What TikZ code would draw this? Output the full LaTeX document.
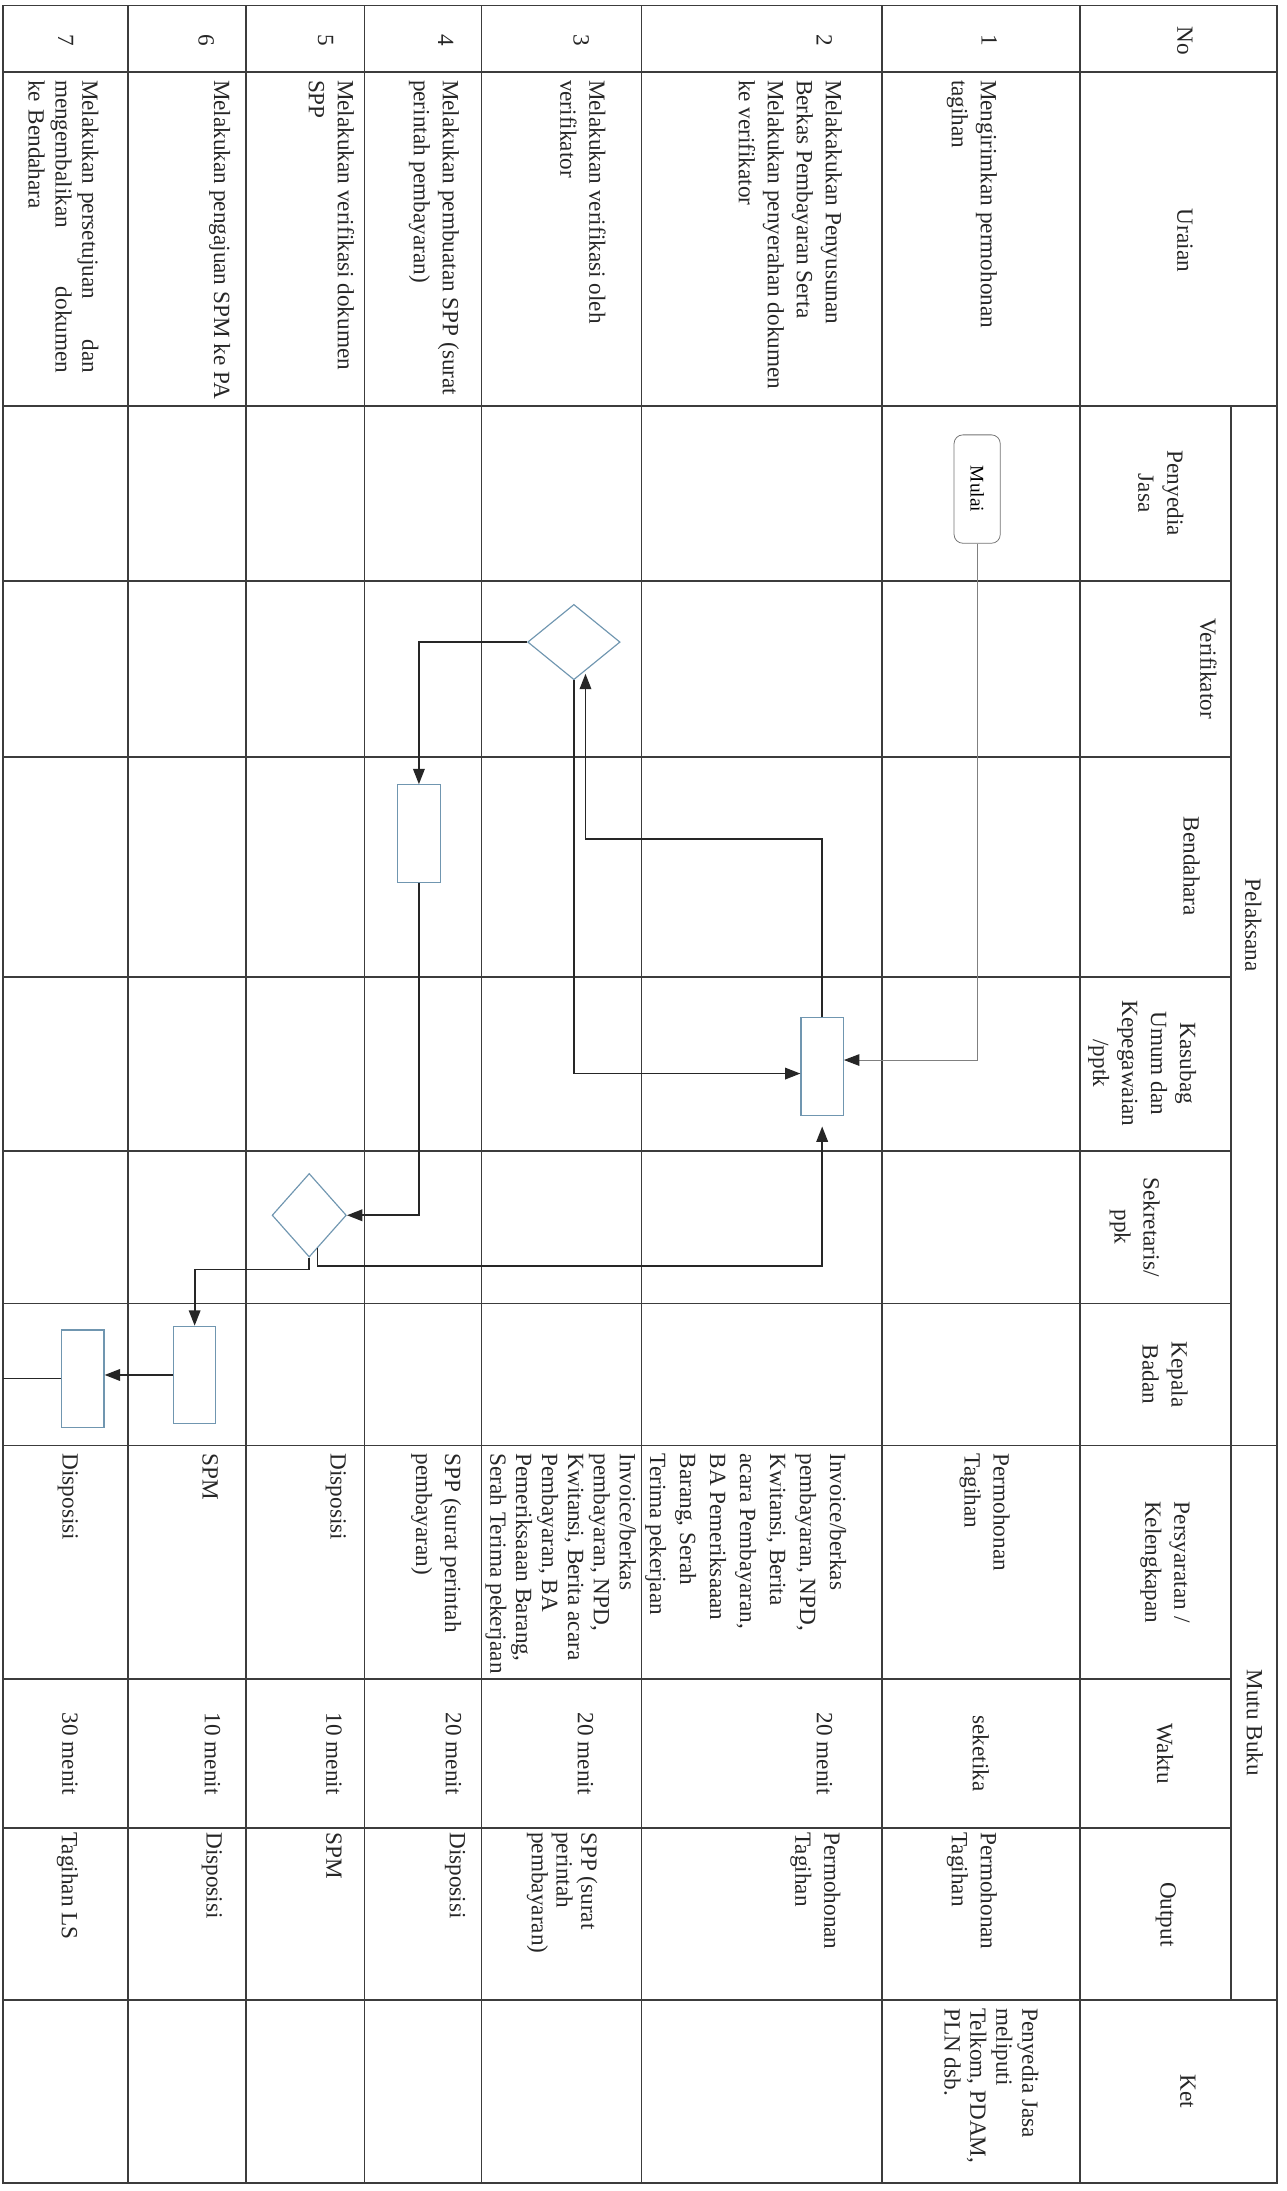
\documentclass[tikz,border=0pt]{standalone}
\usepackage{fontspec}
\setmainfont{Liberation Serif}
\usepackage{xcolor}
\usepackage{tikz}
\usetikzlibrary{shapes.geometric, arrows.meta, calc}

\definecolor{boxblue}{RGB}{112,150,176}
\definecolor{gridgray}{RGB}{60,60,60}
\newcommand{\cellfont}{\fontsize{12}{15}\selectfont}

\begin{document}
\begin{tikzpicture}[
  x=0.254mm, y=-0.254mm,
  grid/.style={draw=gridgray, line width=0.9pt, line cap=rect},
  head/.style={rotate=-90, align=center, inner sep=0pt, font=\cellfont, text=black!85},
  cell/.style={rotate=-90, anchor=north west, align=left, inner sep=0pt, font=\cellfont, text=black!85},
  proc/.style={draw=boxblue, line width=0.6pt, minimum width=7.7mm, minimum height=17.7mm, inner sep=0pt},
  dec/.style={diamond, draw=boxblue, line width=0.6pt, inner sep=0pt},
  start/.style={draw=black!55, rounded corners=1.6mm, rotate=-90, minimum width=19.7mm,
                minimum height=8.4mm, inner sep=0pt, font=\fontsize{10}{12}\selectfont},
  flow/.style={-{Triangle[length=2.8mm,width=2.1mm]}, draw=black!85, line width=0.9pt},
  thinflow/.style={-{Triangle[length=2.8mm,width=2.1mm,color=black!85]}, draw=black!50, line width=0.5pt}
]
  \useasboundingbox (0,0) rectangle (921,1568);

  % table grid
  \foreach \y in {4, 51.3, 290.5, 1034.5, 1431.4, 1562}
    \draw[grid] (2,\y) -- (914,\y);
  \foreach \y in {415.8, 541.5, 699, 823.8, 932.9, 1201.7, 1308.2}
    \draw[grid] (2,\y) -- (881,\y);
  \foreach \x in {2, 91.5, 175.8, 260.8, 344.6, 459.1, 631.4, 773, 914}
    \draw[grid] (\x,4) -- (\x,1562);
  \draw[grid] (881,290.5) -- (881,1431.4);

  % header
  \node[head] (hno) at (848,29) {No};
  \node[head] (hur) at (848,172) {Uraian};
  \node[head] (hpel) at (897,662) {Pelaksana};
  \node[head] (hmutu) at (898,1233) {Mutu Buku};
  \node[head] (hket) at (850,1496.5) {Ket};
  \node[head] (hpj) at (830.7,353) {Penyedia\\Jasa};
  \node[head] (hver) at (864.7,478.6) {Verifikator};
  \node[head] (hben) at (852.8,620) {Bendahara};
  \node[head] (hkas) at (817.5,761) {Kasubag\\Umum dan\\Kepegawaian\\/pptk};
  \node[head] (hsek) at (812,878) {Sekretaris/\\ppk};
  \node[head] (hkep) at (833.7,983.7) {Kepala\\Badan};
  \node[head] (hsyr) at (833.7,1118) {Persyaratan /\\Kelengkapan};
  \node[head] (hwkt) at (833.7,1255) {Waktu};
  \node[head] (hout) at (834.4,1370) {Output};

  % nomor
  \node[head] (n1) at (708,29) {1};
  \node[head] (n2) at (590,29) {2};
  \node[head] (n3) at (416,29) {3};
  \node[head] (n4) at (319,29) {4};
  \node[head] (n5) at (233,29) {5};
  \node[head] (n6) at (147.5,29) {6};
  \node[head] (n7) at (47,29) {7};

  % uraian
  \node[cell] (u1) at (713.8,57) {Mengirimkan permohonan\\tagihan};
  \node[cell] (u2) at (602.8,57) {Melakakukan Penyusunan\\Berkas Pembayaran Serta\\Melakukan penyerahan dokumen\\ke verifikator};
  \node[cell] (u3) at (433.8,57) {Melakukan verifikasi oleh\\verifikator};
  \node[cell] (u4) at (328.8,57) {Melakukan pembuatan SPP (surat\\perintah pembayaran)};
  \node[cell] (u5) at (253.8,57) {Melakukan verifikasi dokumen\\SPP};
  \node[cell] (u6) at (165,57) {Melakukan pengajuan SPM ke PA};
  \node[cell, text width=5.33cm, font=\fontsize{12}{13.9}\selectfont] (u7) at (70.8,57)
    {Melakukan persetujuan\hfill dan\\mengembalikan\hfill dokumen\\ke Bendahara};

  % persyaratan / kelengkapan
  \node[cell] (p1) at (722.8,1040) {Permohonan\\Tagihan};
  \node[cell, font=\fontsize{12}{15.5}\selectfont] (p2) at (605.8,1040)
    {Invoice/berkas\\pembayaran, NPD,\\Kwitansi, Berita\\acara Pembayaran,\\BA Pemeriksaaan\\Barang, Serah\\Terima pekerjaan};
  \node[cell, font=\fontsize{12}{13.4}\selectfont] (p3) at (455.4,1040)
    {Invoice/berkas\\pembayaran, NPD,\\Kwitansi, Berita acara\\Pembayaran, BA\\Pemeriksaaan Barang,\\Serah Terima pekerjaan};
  \node[cell] (p4) at (330.4,1040) {SPP (surat perintah\\pembayaran)};
  \node[cell] (p5) at (247.8,1040) {Disposisi};
  \node[cell] (p6) at (156.3,1040) {SPM};
  \node[cell] (p7) at (56,1040) {Disposisi};

  % waktu
  \node[head] (w1) at (702,1255) {seketika};
  \node[head] (w2) at (590,1255) {20 menit};
  \node[head] (w3) at (419,1255) {20 menit};
  \node[head] (w4) at (324.6,1255) {20 menit};
  \node[head] (w5) at (239,1255) {10 menit};
  \node[head] (w6) at (152,1255) {10 menit};
  \node[head] (w7) at (50,1255) {30 menit};

  % output
  \node[cell] (o1) at (713.8,1311) {Permohonan\\Tagihan};
  \node[cell] (o2) at (601.8,1311) {Permohonan\\Tagihan};
  \node[cell, font=\fontsize{12}{12.8}\selectfont] (o3) at (427.8,1311) {SPP (surat\\perintah\\pembayaran)};
  \node[cell] (o4) at (333.3,1311) {Disposisi};
  \node[cell] (o5) at (244.8,1311) {SPM};
  \node[cell] (o6) at (159.2,1311) {Disposisi};
  \node[cell] (o7) at (56,1311) {Tagihan LS};

  % keterangan
  \node[cell, font=\fontsize{12}{13.4}\selectfont] (k1) at (743.4,1437)
    {Penyedia Jasa\\meliputi\\Telkom, PDAM,\\PLN dsb.};

  % flow shapes
  \node[start] (mulai) at (699.3,350) {Mulai};
  \node[dec, minimum width=16.8mm, minimum height=13.7mm] (verif) at (410.7,459.5) {};
  \node[proc] (kasu) at (588.4,763.3) {};
  \node[proc] (bend) at (299.8,596.5) {};
  \node[dec, minimum width=13.5mm, minimum height=15.2mm] (sek) at (221.3,869.7) {};
  \node[proc] (kep1) at (139.3,984) {};
  \node[proc] (kep2) at (59.3,986.6) {};
  \coordinate (keluar) at (2,986.6);

  % connectors
  \draw[thinflow] (mulai.east) |- ($(kasu.east)+(0,-4.7)$);
  \draw[flow] (verif.south) |- ($(kasu.west)+(0,5)$);
  \draw[flow] (kasu.north) -- ++(0,-127.8) -| ($(verif.south)+(8.3,-4.7)$);
  \draw[flow] (verif.west) -| (bend.north);
  \draw[flow] (bend.south) |- (sek.east);
  \draw[flow] ($(sek.south)+(5.9,-6.7)$) -- ++(0,12.6) -| ($(kasu.south)+(0,7.6)$);
  \draw[flow] (sek.south) -- ++(0,8.4) -| (kep1.north);
  \draw[flow] (kep1.west) -- (kep1.west -| kep2.east);
  \draw[draw=black!85, line width=0.9pt] (kep2.west) -- (keluar);
\end{tikzpicture}
\end{document}
